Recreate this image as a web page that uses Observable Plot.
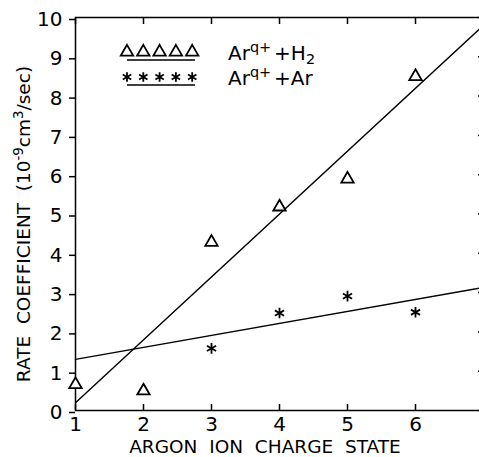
<!DOCTYPE html>
<html>
<head>
<meta charset="utf-8">
<script src="https://cdn.jsdelivr.net/npm/d3@7"></script>
<script src="https://cdn.jsdelivr.net/npm/@observablehq/plot@0.6"></script>
<style>
  html, body { margin: 0; padding: 0; background: #fff; overflow: hidden; }
  svg { display: block; }
</style>
</head>
<body>
<div id="chart"></div>
<script>
// ---- data ----
const chargeH2 = [1, 2, 3, 4, 5, 6];
const rateH2 = [0.66, 0.5, 4.28, 5.18, 5.89, 8.5];
const chargeAr = [3, 4, 5, 6];
const rateAr = [1.58, 2.48, 2.91, 2.5];
const fitX = [1, 7];
const fitH2 = [0.2, 9.8];
const fitAr = [1.3, 3.13];
const xTicks = [1, 2, 3, 4, 5, 6, 7];
const xTickLabels = [1, 2, 3, 4, 5, 6];
const yTicks = [0, 1, 2, 3, 4, 5, 6, 7, 8, 9, 10];
const xTitle = "ARGON  ION  CHARGE  STATE";
const yTitleParts = [["RATE  COEFFICIENT  (10", null], ["-9", "sup"], ["cm", null], ["3", "sup"], ["/sec)", null]];
const legendSeries = [
  { symbol: "triangle", parts: [["Ar", null], ["q+", "sup"], ["+H", null], ["2", "sub"]] },
  { symbol: "asterisk", parts: [["Ar", null], ["q+", "sup"], ["+Ar", null]] }
];

const h2 = chargeH2.map((q, i) => ({ q, k: rateH2[i] }));
const ar = chargeAr.map((q, i) => ({ q, k: rateAr[i] }));
const lineH2 = fitX.map((q, i) => ({ q, k: fitH2[i] }));
const lineAr = fitX.map((q, i) => ({ q, k: fitAr[i] }));

const font = "'DejaVu Sans', sans-serif";

const plot = Plot.plot({
  width: 479,
  height: 457,
  marginLeft: 75,
  marginRight: -4,
  marginTop: 17,
  marginBottom: 47,
  x: { domain: [1, 7] },
  y: { domain: [0, 10] },
  style: { fontFamily: font, color: "black", background: "white" },
  marks: [
    Plot.frame({ stroke: "black", strokeWidth: 1.5 }),
    Plot.axisY({ ticks: yTicks, tickFormat: "d", tickSize: 6, tickPadding: 7, label: null, fontSize: 20, strokeWidth: 1.5, dy: 2 }),
    Plot.axisY({ anchor: "right", ticks: yTicks, tickSize: -6, tickFormat: () => "", label: null, strokeWidth: 1.5 }),
    Plot.axisX({ ticks: xTickLabels, tickFormat: "d", tickSize: -6, tickPadding: 12, label: null, fontSize: 20, strokeWidth: 1.5 }),
    Plot.axisX({ anchor: "top", ticks: xTicks, tickSize: -6, tickFormat: () => "", label: null, strokeWidth: 1.5 }),
    Plot.line(lineH2, { x: "q", y: "k", stroke: "black", strokeWidth: 1.4 }),
    Plot.line(lineAr, { x: "q", y: "k", stroke: "black", strokeWidth: 1.4 }),
    Plot.dot(h2, { x: "q", y: "k", symbol: "triangle", r: 4.6, stroke: "black", strokeWidth: 1.8, fill: "white" }),
    Plot.dot(ar, { x: "q", y: "k", symbol: "asterisk", r: 5, stroke: "black", strokeWidth: 1.8 })
  ]
});

document.getElementById("chart").appendChild(plot);

// ---- titles and legend with super/subscripts ----
const svgSel = d3.select(plot);

function addParts(text, parts, size, gap) {
  let shift = 0;
  parts.forEach(([t, kind], i) => {
    const ts = text.append("tspan").text(t);
    const target = kind === "sup" ? -size * 0.38 : kind === "sub" ? size * 0.2 : 0;
    ts.attr("dy", target - shift);
    if (kind) ts.attr("font-size", size * 0.72);
    if (gap && i > 0 && parts[i - 1][1] === "sup" && !kind) ts.attr("dx", gap);
    shift = target;
  });
}

svgSel.append("text")
  .attr("x", 265).attr("y", 453)
  .attr("text-anchor", "middle")
  .attr("font-family", font).attr("font-size", 18.5)
  .text(xTitle);

const yt = svgSel.append("text")
  .attr("transform", "translate(30,224) rotate(-90)")
  .attr("text-anchor", "middle")
  .attr("font-family", font).attr("font-size", 18.5);
addParts(yt, yTitleParts, 18.5, 0);

const sym = { triangle: d3.symbolTriangle, asterisk: d3.symbolAsterisk };
legendSeries.forEach((s, row) => {
  const cy = 52 + row * 25;
  const g = svgSel.append("g");
  d3.range(5).forEach(j => {
    g.append("path")
      .attr("transform", `translate(${127 + j * 16.3},${cy})`)
      .attr("d", d3.symbol(sym[s.symbol], 4.6 * 4.6 * Math.PI)())
      .attr("fill", s.symbol === "triangle" ? "white" : "none")
      .attr("stroke", "black").attr("stroke-width", 1.8);
  });
  g.append("line")
    .attr("x1", 127).attr("x2", 195)
    .attr("y1", cy + 8).attr("y2", cy + 8)
    .attr("stroke", "black").attr("stroke-width", 1.5);
  const t = svgSel.append("text")
    .attr("x", 228).attr("y", cy + 8)
    .attr("text-anchor", "start")
    .attr("font-family", font).attr("font-size", 20);
  addParts(t, s.parts, 20, 3);
});
</script>
</body>
</html>
